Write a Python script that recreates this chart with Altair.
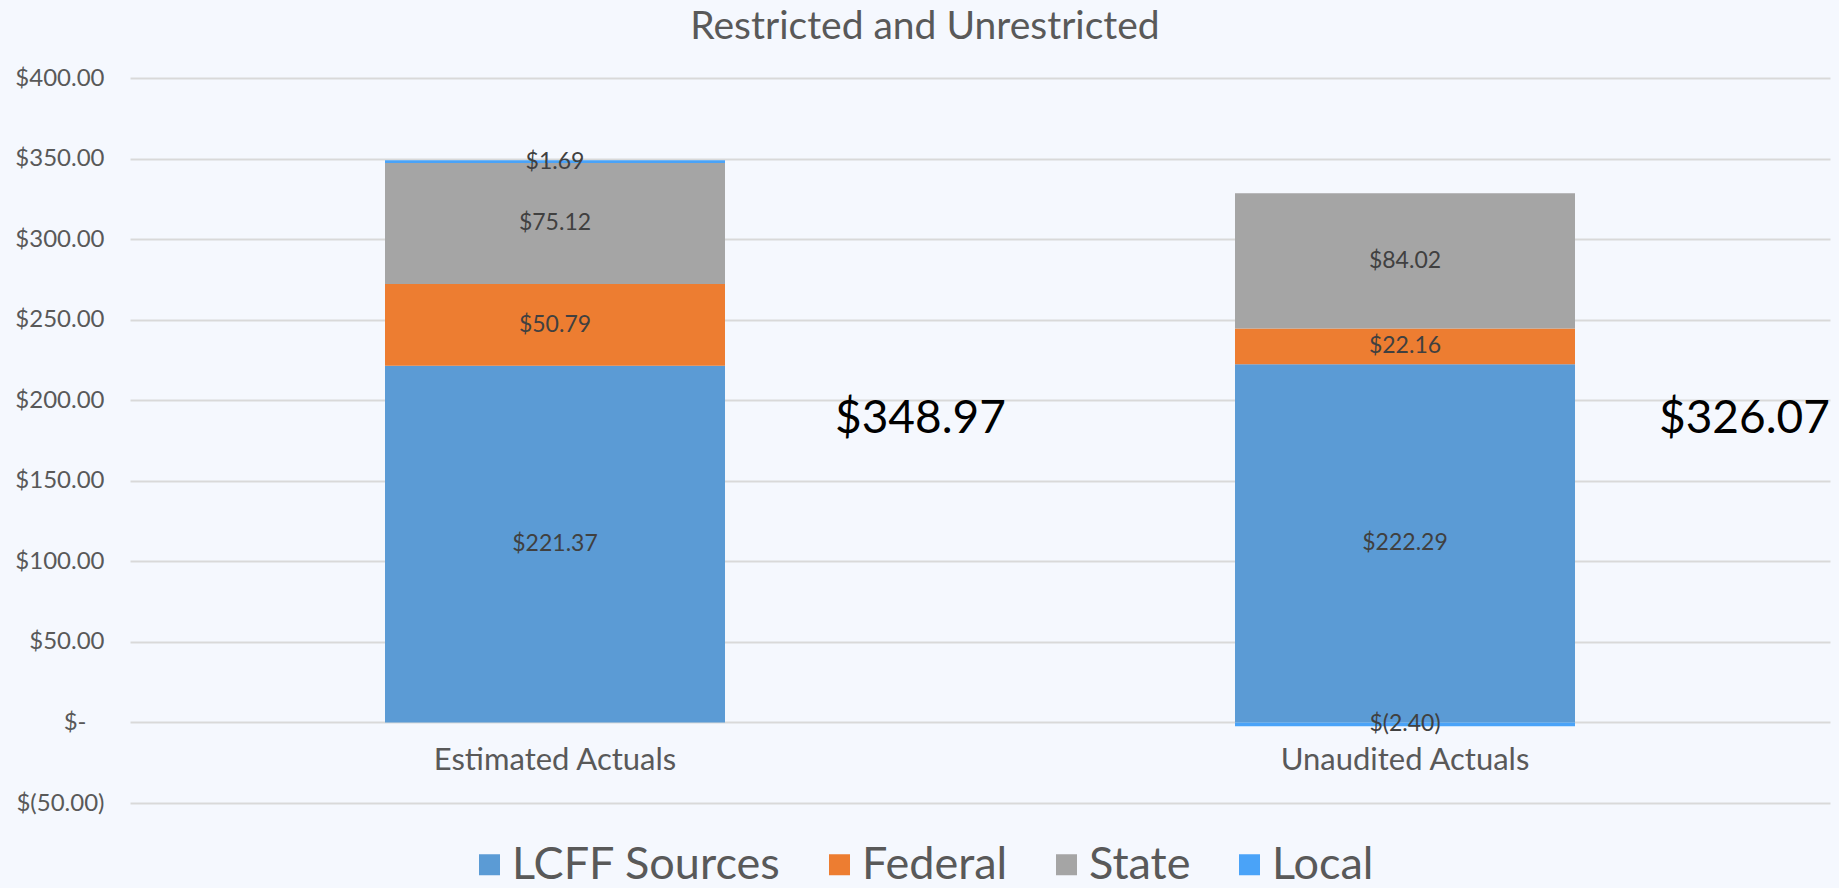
import altair as alt
import pandas as pd

categories = ["Estimated Actuals", "Unaudited Actuals"]
sources = ["LCFF Sources", "Federal", "State", "Local"]
lcff = [221.37, 222.29]
federal = [50.79, 22.16]
state = [75.12, 84.02]
local = [1.69, -2.40]
totals = [348.97, 326.07]
colors = ["#5B9BD5", "#ED7D31", "#A5A5A5", "#4AA3F8"]

rows = []
for i, c in enumerate(categories):
    for j, (s, vals) in enumerate(zip(sources, [lcff, federal, state, local])):
        rows.append({"category": c, "source": s, "order": j, "value": vals[i]})
df = pd.DataFrame(rows)
tot_df = pd.DataFrame({"category": categories, "total": totals})

FONT = "Lato"
TXT = "#595959"

xscale = alt.Scale(domain=categories, paddingInner=0.6, paddingOuter=0.3)
yscale = alt.Scale(domain=[-50, 400], nice=False)

base = alt.Chart(df).transform_stack(
    stack="value", groupby=["category"], as_=["v0", "v1"],
    sort=[alt.SortField(field="order", order="ascending")]
).transform_calculate(
    mid="(datum.v0 + datum.v1) / 2",
    label="datum.value < 0 ? '$(' + format(-datum.value, '.2f') + ')' : '$' + format(datum.value, '.2f')"
)

bars = base.mark_bar().encode(
    x=alt.X("category:N", scale=xscale, sort=categories,
            axis=alt.Axis(title=None, labelAngle=0, domain=False, ticks=False,
                          labelFontSize=31, labelColor=TXT, labelFont=FONT,
                          labelLimit=0, offset=-80, labelPadding=22)),
    y=alt.Y("v0:Q", scale=yscale,
            axis=alt.Axis(title=None, values=list(range(-50, 401, 50)),
                          domain=False, ticks=False, grid=True,
                          gridColor="#D9D9D9", gridWidth=2,
                          labelFontSize=24, labelColor=TXT, labelFont=FONT,
                          labelPadding={"condition": {"test": "datum.value == 0", "value": 44}, "value": 26},
                          labelExpr="datum.value == 0 ? '$-' : (datum.value < 0 ? '$(' + format(-datum.value, ',.2f') + ')' : '$' + format(datum.value, ',.2f'))")),
    y2="v1:Q",
    color=alt.Color("source:N", sort=sources,
                    scale=alt.Scale(domain=sources, range=colors),
                    legend=alt.Legend(title=None, orient="none", direction="horizontal",
                                      legendX=337, legendY=764,
                                      symbolType="square", symbolSize=441,
                                      symbolStrokeWidth=0, labelFontSize=45,
                                      labelFont=FONT, labelColor=TXT, labelLimit=0,
                                      labelOffset=0, columnPadding=36, padding=0)),
    order=alt.Order("order:Q"),
)

labels = base.mark_text(fontSize=23, color="#404040", font=FONT, baseline="middle").encode(
    x=alt.X("category:N", scale=xscale, sort=categories),
    y=alt.Y("mid:Q", scale=yscale),
    text="label:N",
)

def total_layer(cat, dx):
    return alt.Chart(tot_df).transform_filter(
        alt.datum.category == cat
    ).transform_calculate(
        t="'$' + format(datum.total, '.2f')"
    ).mark_text(fontSize=46, color="#000000", font=FONT, align="left",
                baseline="middle", dx=dx).encode(
        x=alt.X("category:N", scale=xscale, sort=categories),
        y=alt.value(341),
        text="t:N",
    )

chart = alt.layer(
    bars, labels,
    total_layer(categories[0], 280),
    total_layer(categories[1], 254),
).properties(
    width=1700, height=725,
    title=alt.TitleParams("Restricted and Unrestricted", fontSize=39, color=TXT,
                          font=FONT, fontWeight="normal", anchor="middle",
                          dx=-55, offset=19),
    autosize=alt.AutoSizeParams(type="none"),
    padding={"left": 130, "top": 78, "right": 9, "bottom": 85},
    background="#F5F8FE",
).configure_view(stroke=None)

chart.save("out.html", embed_options={"renderer": "svg", "actions": False})
